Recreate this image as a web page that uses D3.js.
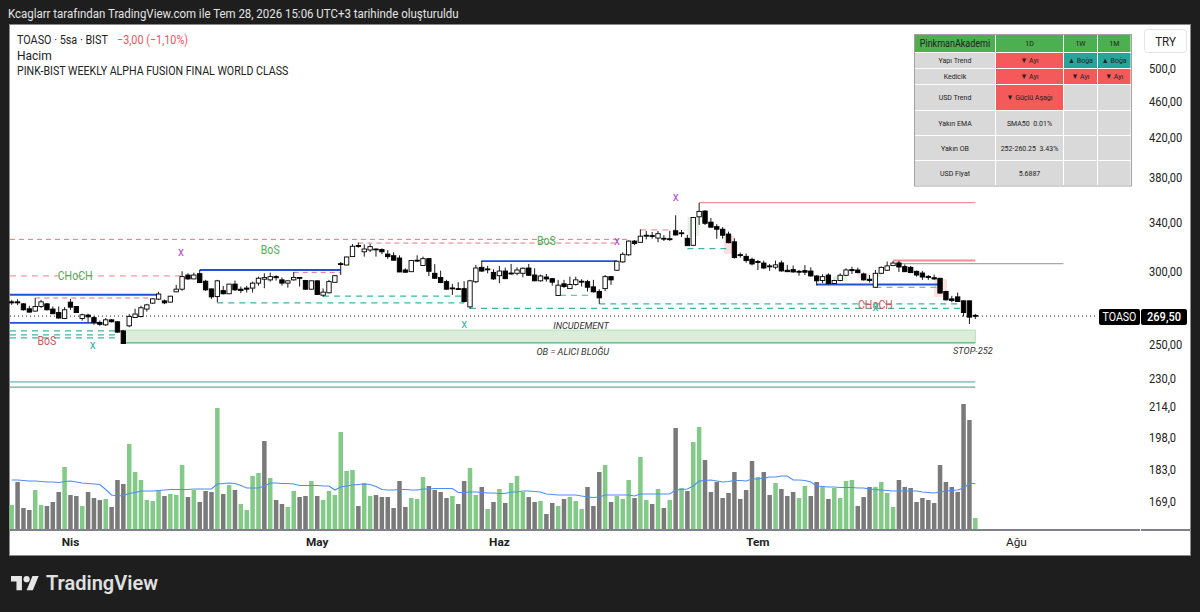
<!DOCTYPE html>
<html lang="tr">
<head>
<meta charset="utf-8">
<title>TOASO</title>
<script src="https://cdnjs.cloudflare.com/ajax/libs/d3/7.8.5/d3.min.js"></script>
<style>
html,body{margin:0;padding:0;background:#1e1e1e;}
svg{display:block;font-family:Roboto,"Noto Sans",sans-serif;}
text{white-space:pre;}
</style>
</head>
<body>
<svg id="chart" width="1200" height="612"></svg>
<script>
// 5-hour candles, in chart order
const opens = [279.3,279.3,277.9,274.5,272.9,276.1,277.9,274.3,271.9,267.9,279.1,276.1,267.9,270.2,268.5,265.3,263.7,267,265.7,259.7,263,268.5,269.2,274.3,278.4,281.2,280,279.1,286.4,288.3,298.7,295.8,299.7,294.1,288.5,283,287.3,285,292,288.3,289.1,289.1,292.7,295.6,295.1,297.5,295.1,292.7,295.1,296.9,294.6,288.3,294.4,284,285.7,293.3,307.3,306.3,312.8,321.6,316.6,318,318.8,318.4,314.8,313.5,311.7,302.5,301.2,310,305.9,311.2,300,296.9,293.8,289.2,288.7,288.7,275.8,293.7,304.5,303.3,300.7,298.2,301.7,300.2,300,300,304,298.7,294.4,297.2,296,283.8,292.2,288.7,291.7,294.1,293.8,290,286.6,288.7,297.5,302.3,308.7,314.2,325.2,324.2,330,329.7,327.7,327.5,327.1,333.7,332,327.5,321.8,345.6,350.6,341,337.2,335,331,324.6,314.3,313,310.7,309,307.8,305.6,304.6,307.9,302.3,302.8,301.5,302,301.7,298,294.6,298.7,292.4,294.6,298.5,302.8,302.5,299.5,295.6,289.7,300,302.3,305.9,307.9,305.1,304.5,301.5,300.2,297.7,296.7,296.3,286.6,281.4,282.8,280,280,270];
const highs = [280.7,281.2,278.4,276.6,281.9,280.7,278.4,276.1,276.1,275.6,281.4,276.1,271.1,271.1,269.7,266.5,268.2,267.5,265.9,260.4,270.9,274.5,276.6,277.9,281.9,286.4,280.9,283.5,291.4,301.5,300,300.5,302.5,295.1,288.8,295.1,290.7,292,294.6,290.2,290.7,293.8,297.5,300,300.5,298.5,296.9,294.6,301,296.9,295.1,294.6,294.6,288.8,295.1,298.5,308.7,312.8,322.8,324,322.5,322.8,319.3,319.3,318,316.2,313.8,303.8,310.2,313.8,312.8,311.7,306.9,302,295.1,292.2,293.4,294.1,295.1,306.4,309.7,305.6,303,305.6,304.3,307.1,304.5,304.5,307.1,303.8,299,299.5,296.5,295.1,295.1,297.5,297.5,295.6,295.1,295.1,288.3,298.7,298,309.5,316.2,325.8,326,334.9,333.5,332.7,333.5,330.2,333.7,346.9,334.3,330.2,345.4,357.9,351.4,344.6,339.3,336.8,333,327.5,316,315.2,312,310.2,309.7,307.1,309.7,309.7,306.4,305.9,302.5,306.2,304.5,298.5,299.3,300,295.1,300,303.8,305,304.3,300.5,298.7,302.5,305.1,309,309.3,309.5,306.7,305.6,302,301.8,298.7,299,296.5,287.1,283.5,285.9,280.2,280.2,271];
const lows = [277.2,277,273.3,272,272.6,274.9,273.3,270.9,267.9,267.5,273.8,271.9,266.5,265.3,263.7,263,263,265.3,258.6,251.6,262.1,268.2,268.5,272.6,277.9,280.7,277.7,278.9,286.2,287.1,295.1,295.6,292.7,287.1,281.4,278.9,284.5,285,287.1,285.5,285.9,285.9,290.9,289,293.8,294.6,290.9,289.4,294.6,290.2,287.8,288.1,284.3,282.8,285.2,293.3,298.7,306.1,312.5,319.8,312.8,316.4,312.8,314.8,311,309.7,300.8,300.5,301,308.7,305.6,298,295.8,292.7,287.8,284.2,287.8,278.9,274.5,292.7,301,300,295.1,292.7,295.6,299,298.5,297,298,294.1,293.8,293.8,290.9,283.5,289.2,288.5,290.9,290.2,286.6,285.9,277.9,286.9,291.4,302,308,313.5,322,324,326.6,327.1,324.2,325.2,325.4,330,328.6,321.2,321.2,338.6,338.6,336.4,327.1,327.1,323.4,311.3,312,308,306,302.5,303.1,301.8,303.1,301.2,301,300.5,298.2,298.7,297.5,291,292.7,292,292,294.1,298,299.5,300,294.6,293.1,289.4,299.5,301.8,305.6,301,301,300.2,297.5,295.1,295.1,295.1,285.2,280.2,279,279.3,269.2,264.2,267.5];
const closes = [278.6,278.6,273.8,272.2,276.1,279.3,273.8,271.1,268.2,273.8,275.6,271.9,270.4,269,265.3,264,267,265.7,258.9,251.6,269.2,270.9,275.2,277.2,281.4,284.8,278.6,283.3,288.3,297.5,295.8,298.7,293.1,287.8,282.8,294.4,285,292,287.8,287.3,288.3,292.7,296.3,296.8,297.5,296.7,292.7,294.4,296.9,296.7,288.3,294.4,284.5,286.2,293.8,298.2,307.1,312.5,321,321.4,318.8,320.7,318.4,316.6,312.8,310,301,300.8,309.7,309.4,311.2,301.5,296.3,293.1,288.3,288.7,288.3,279.5,294.4,304,301.7,302.8,295.8,301.7,296,299.5,302.5,303.8,298.5,294.4,298,295.8,293.4,291.2,290.2,291.7,295.1,293.6,289.7,286.4,282.1,297.5,295.1,309.2,314.6,325.2,323.3,329.2,329.5,329.4,331.3,327.1,326.8,330.2,331.4,321.5,345,350.3,340,336.7,335,330,323.9,312,313.7,309.7,307.1,308.2,304,305.1,306.4,301.8,301.2,301,301,300.8,298,294.4,297.5,292.2,294.6,298.5,302.5,302,300.5,295.1,294.6,300,304.5,305.6,307.8,304.8,301.2,300.5,298.7,297.2,296.9,295.8,285.5,280.7,280.2,279.5,271.9,268.8,269.5];

// Traded volume per candle (thousand shares), its moving average, and bar direction (1 green, 0 grey)
const volumes = [240,470,210,190,390,240,230,270,370,620,340,330,230,370,310,290,300,220,490,450,850,570,490,290,280,390,330,350,340,640,320,390,270,380,370,1210,350,440,390,250,190,530,560,880,510,290,250,220,380,320,330,480,330,290,380,340,970,580,590,230,460,330,340,320,320,210,480,220,310,300,520,430,390,370,310,330,250,480,610,340,420,200,270,400,260,460,530,370,320,270,280,150,260,230,300,320,280,200,420,230,570,640,270,330,300,490,310,720,290,250,400,210,290,1010,410,380,870,1020,690,370,470,310,360,570,300,390,680,520,570,340,460,400,330,370,310,430,330,470,420,300,410,310,480,490,230,320,420,420,470,360,220,490,420,410,270,310,290,260,640,470,420,370,1250,1090,110];
const volumeMA = [490,490,485,480,480,475,470,470,465,475,480,470,460,455,450,445,395,340,330,335,355,365,380,380,380,385,390,395,395,395,395,400,400,400,400,450,455,460,455,435,410,410,410,430,460,460,455,455,450,435,435,435,435,430,430,390,420,430,440,445,450,445,425,395,390,390,395,395,390,390,400,400,405,405,405,405,365,365,370,370,365,360,360,355,355,370,370,380,380,375,370,350,345,340,340,340,340,330,320,315,320,340,340,340,340,340,330,350,350,350,350,350,350,390,395,400,430,480,485,490,480,470,475,485,485,480,500,500,510,520,520,530,530,490,490,485,470,430,425,420,420,415,415,415,410,410,400,395,390,385,380,380,380,380,380,370,365,360,370,380,385,390,410,455,455];
const volumeDir = [1,0,0,0,1,1,0,0,0,1,0,0,1,0,0,0,1,0,0,0,1,1,1,1,1,1,0,1,1,1,0,1,0,0,0,1,0,1,0,1,1,1,1,0,1,0,0,1,1,0,0,1,0,1,1,1,1,1,1,0,1,1,0,0,0,0,0,0,1,1,1,0,0,0,0,1,0,0,1,1,0,1,0,1,0,1,1,1,0,0,1,0,0,1,0,1,1,1,0,0,0,1,0,1,1,1,0,1,1,0,1,0,1,0,1,0,1,1,0,0,0,0,0,0,0,0,0,1,0,0,1,0,0,0,1,1,0,0,1,0,1,1,1,1,0,0,0,1,1,1,1,0,0,0,0,0,0,0,0,0,0,0,0,0,1];

// Horizontal structure levels: [first candle, last candle, price, style]
const levels = [
  [0.7,106,326.6,"pinkDash"],[60,104,323.6,"pinkDash"],[0.7,30,298,"softDash"],
  [5,24.5,282,"pinkDash"],[49,57,300.7,"pinkDash"],[108,114,334.5,"softDash"],
  [0.7,26,284.3,"blue"],[0.7,16,265,"blue"],[33,57,302.5,"blue"],[81,104,309.3,"blue"],[138,159,291.7,"blue"],
  [0.7,20,259.7,"tealDash"],[0.7,19,257.1,"tealDash"],[0.7,19,255.2,"tealDash"],
  [36,78,278.6,"tealDash"],[54,78,283.3,"tealDash"],[79,163,274.8,"tealDash"],[101,163,277.9,"tealDash"],
  [94.3,99.4,283.9,"tealDash"],[116,123,319.1,"tealDash"],[148,158.5,289.7,"tealDash"],
  [118,165,358,"red"],[151,165,309.7,"redWide"],[152,180,307.4,"grey"],
  [0.7,165,228.6,"tealWide"],[0.7,165,225.6,"green"]
];

// Imbalance zones: [first candle, last candle, upper price, lower price, style]
const zones = [
  [116,118,345.4,329.4,"gain"],[122.2,124,329.4,314.9,"loss"],[158,160.2,295.8,282.7,"loss"],
  [140.8,143.2,298,294.3,"gain"],[145,147,300.2,296.5,"loss"],[148.2,149,300.2,297.3,"gain"]
];

// Order block quoted in the summary table
const orderBlock = [20.3,165,260.25,252];

// Chart notes: [candle, price, text, style]
const notes = [
  [11.8,298,"CHoCH","sigGreen"],[7,253.2,"BoS","sigRed"],[45,318,"BoS","sigGreen"],[92,325.3,"BoS","sigGreen"],[148,277.4,"CHoCH","sigRed"],
  [14.8,251,"x","markTeal"],[78,264,"x","markTeal"],[148,276,"x","markTeal"],
  [29.8,316.4,"x","markPurple"],[104,325,"x","markPurple"],[114,363.6,"x","markPurple"],
  [97.9,263,"INCUDEMENT","memo"],[96.5,246.6,"OB = ALICI BLOĞU","memo"],[164.6,247.5,"STOP-252","memo"]
];

// Axis labels
const priceTicks = [500,460,420,380,340,300,250,230,214,198,183,169];
const priceTickLabels = ["500,0","460,00","420,00","380,00","340,00","300,00","250,00","230,0","214,0","198,0","183,0","169,0"];
const monthTicks = [11,53,84,128,172];
const monthLabels = ["Nis","May","Haz","Tem","Ağu"];
const monthBold = [1,1,1,1,0];

const lastPrice = 269.5;
const lastPriceLabel = "269,50";
const symbol = "TOASO";

// Summary table
const tableHeader = ["PinkmanAkademi","1D","1W","1M"];
const tableRows = [
  ["Yapı Trend","▼ Ayı","▲ Boğa","▲ Boğa"],
  ["Kedicik","▼ Ayı","▼ Ayı","▼ Ayı"],
  ["USD Trend","▼ Güçlü Aşağı","",""],
  ["Yakın EMA","SMA50  0.01%","",""],
  ["Yakın OB","252-260.25  3.43%","",""],
  ["USD Fiyat","5.6887","",""]
];

const svg = d3.select("#chart");
const pane = {left:10,right:1190,top:25,bottom:555,plotRight:1140,volBase:529};

// Price runs on a logarithmic scale, candles sit on an evenly spaced index
const x = d3.scaleLinear().domain([1,165]).range([11.7,975.3]);
const y = d3.scaleLog().domain([500,230]).range([69.3,379.4]);
const yVol = d3.scaleLinear().domain([0,1250]).range([pane.volBase,404]);

// Narrows set text horizontally to the proportions of the chart's interface face
function condense(sel, factor){
  sel.each(function(){
    const w = this.getComputedTextLength();
    if (w > 0) d3.select(this).attr("textLength", w * factor).attr("lengthAdjust", "spacingAndGlyphs");
  });
  return sel;
}

svg.append("rect").attr("width",1200).attr("height",612).attr("fill","#1e1e1e");
svg.append("rect").attr("x",pane.left-.5).attr("y",pane.top-.5)
  .attr("width",pane.right-pane.left+1).attr("height",pane.bottom-pane.top+1)
  .attr("fill","#fff").attr("stroke","#8a8a8a");

condense(svg.append("text").attr("x",8).attr("y",18).attr("fill","#e4e4e4").attr("font-size",12)
  .text("Kcaglarr tarafından TradingView.com ile Tem 28, 2026 15:06 UTC+3 tarihinde oluşturuldu"),.955);

// Legend block
const legend = svg.append("g").attr("font-size",12).attr("fill","#222");
condense(legend.append("text").attr("x",17).attr("y",44).text("TOASO · 5sa · BIST"),.9);
condense(legend.append("text").attr("x",117).attr("y",44).attr("fill","#f7525f").text("−3,00 (−1,10%)"),.9);
legend.append("text").attr("x",17).attr("y",59.5).text("Hacim");
condense(legend.append("text").attr("x",17).attr("y",75).text("PINK-BIST WEEKLY ALPHA FUSION FINAL WORLD CLASS"),.885);

// Volume pane
const volW = 4.5;
svg.append("g").selectAll("rect").data(volumes).join("rect")
  .attr("x",(d,i)=>x(i+1)-volW/2).attr("width",volW)
  .attr("y",d=>yVol(d)).attr("height",d=>yVol(0)-yVol(d))
  .attr("fill",(d,i)=>volumeDir[i]?"#83c988":"#7a7a7a");
svg.append("path").datum(volumeMA)
  .attr("d",d3.line().x((d,i)=>x(i+1)).y(d=>yVol(d)))
  .attr("fill","none").attr("stroke","#4d8df5").attr("stroke-width",1.1);

// Base line of the plot and axis strip
svg.append("rect").attr("x",pane.left).attr("y",pane.volBase).attr("width",pane.plotRight-pane.left).attr("height",2).attr("fill","#80808a");
svg.append("rect").attr("x",pane.plotRight+1).attr("y",pane.volBase).attr("width",pane.right-pane.plotRight-1).attr("height",2).attr("fill","#80808a");

// Order block and imbalance zones
svg.append("rect").attr("x",x(orderBlock[0])).attr("width",x(orderBlock[1])-x(orderBlock[0]))
  .attr("y",y(orderBlock[2])).attr("height",y(orderBlock[3])-y(orderBlock[2]))
  .attr("fill","#dbeeda");
svg.append("line").attr("x1",x(orderBlock[0])).attr("x2",x(orderBlock[1])).attr("y1",y(orderBlock[2])).attr("y2",y(orderBlock[2]))
  .attr("stroke","#b9dfba").attr("stroke-width",1);
svg.append("line").attr("x1",x(orderBlock[1])).attr("x2",x(orderBlock[1])).attr("y1",y(orderBlock[2])).attr("y2",y(orderBlock[3]))
  .attr("stroke","#b9dfba").attr("stroke-width",1);
svg.append("line").attr("x1",x(orderBlock[0])).attr("x2",x(orderBlock[1])).attr("y1",y(orderBlock[3])).attr("y2",y(orderBlock[3]))
  .attr("stroke","#57a883").attr("stroke-width",1.2);

svg.append("g").selectAll("rect").data(zones).join("rect")
  .attr("x",d=>x(d[0])).attr("width",d=>x(d[1])-x(d[0]))
  .attr("y",d=>y(d[2])).attr("height",d=>y(d[3])-y(d[2]))
  .attr("fill",d=>d[4]==="gain"?"#e4f3e4":"#fbe1e3");

// Structure levels
const levelStyle = {
  pinkDash:{stroke:"#e8727c",width:1,dash:"5,4"},
  softDash:{stroke:"#f59aa1",width:1.3,dash:"6,5"},
  tealDash:{stroke:"#3cb5a3",width:1.1,dash:"6,5"},
  blue:{stroke:"#2250dc",width:1.8,dash:null},
  red:{stroke:"#f68e96",width:1.3,dash:null},
  redWide:{stroke:"#f48c94",width:2,dash:null},
  grey:{stroke:"#a8a8a8",width:1.2,dash:null},
  tealWide:{stroke:"#8fd0c6",width:1.6,dash:null},
  green:{stroke:"#5db394",width:1.1,dash:null}
};
svg.append("g").selectAll("line").data(levels).join("line")
  .attr("x1",d=>x(d[0])).attr("x2",d=>x(d[1])).attr("y1",d=>y(d[2])).attr("y2",d=>y(d[2]))
  .attr("stroke",d=>levelStyle[d[3]].stroke).attr("stroke-width",d=>levelStyle[d[3]].width)
  .attr("stroke-dasharray",d=>levelStyle[d[3]].dash);

// Last price line
svg.append("line").attr("x1",pane.left).attr("x2",1097).attr("y1",y(lastPrice)).attr("y2",y(lastPrice))
  .attr("stroke","#222").attr("stroke-width",1).attr("stroke-dasharray","1,3");

// Candles
const bodyW = 4.4;
const candles = svg.append("g").selectAll("g").data(d3.range(closes.length)).join("g");
candles.append("line").attr("x1",i=>x(i+1)).attr("x2",i=>x(i+1))
  .attr("y1",i=>y(highs[i])).attr("y2",i=>y(lows[i])).attr("stroke","#1a1a1a").attr("stroke-width",1);
candles.append("rect").attr("x",i=>x(i+1)-bodyW/2).attr("width",bodyW)
  .attr("y",i=>y(Math.max(opens[i],closes[i])))
  .attr("height",i=>Math.max(.9,Math.abs(y(opens[i])-y(closes[i]))))
  .attr("fill",i=>closes[i]>=opens[i]?"#fff":"#000")
  .attr("stroke","#000").attr("stroke-width",.9);

// Signals and notes
const noteStyle = {
  sigGreen:{fill:"#52ad57",size:12,style:"normal",fit:.88},
  sigRed:{fill:"#cc5a60",size:12,style:"normal",fit:.88},
  markTeal:{fill:"#3cb5a3",size:12,style:"normal",fit:1},
  markPurple:{fill:"#b04fc9",size:12,style:"normal",fit:1},
  memo:{fill:"#333",size:9.2,style:"italic",fit:1}
};
svg.append("g").selectAll("text").data(notes).join("text")
  .attr("x",d=>x(d[0])).attr("y",d=>y(d[1]))
  .attr("text-anchor","middle").attr("dominant-baseline","central")
  .attr("fill",d=>noteStyle[d[3]].fill).attr("font-size",d=>noteStyle[d[3]].size)
  .attr("font-style",d=>noteStyle[d[3]].style)
  .text(d=>d[2])
  .each(function(d){ condense(d3.select(this), noteStyle[d[3]].fit); });

// Price axis
condense(svg.append("g").selectAll("text").data(priceTicks).join("text")
  .attr("x",1149).attr("y",d=>y(d)-1.3).attr("dominant-baseline","central")
  .attr("font-size",12.6).attr("fill","#222")
  .text((d,i)=>priceTickLabels[i]),.88);

// Time axis
svg.append("g").selectAll("text").data(monthTicks).join("text")
  .attr("x",d=>x(d)).attr("y",542).attr("text-anchor","middle").attr("dominant-baseline","central")
  .attr("font-size",11.8).attr("font-weight",(d,i)=>monthBold[i]?700:400).attr("fill","#222")
  .text((d,i)=>monthLabels[i]);

// Currency badge
svg.append("rect").attr("x",1144.5).attr("y",29.5).attr("width",42).attr("height",23).attr("rx",3)
  .attr("fill","#fff").attr("stroke","#e4e4e4");
condense(svg.append("text").attr("x",1165.5).attr("y",41.5).attr("text-anchor","middle").attr("dominant-baseline","central")
  .attr("font-size",12.6).attr("fill","#222").text("TRY"),.92);

// Last price tags
const tagY = y(lastPrice)+.8;
svg.append("rect").attr("x",1099).attr("y",tagY-8).attr("width",41).attr("height",16).attr("rx",2).attr("fill","#000");
svg.append("rect").attr("x",1141).attr("y",tagY-8).attr("width",46).attr("height",16).attr("rx",2).attr("fill","#000");
condense(svg.append("text").attr("x",1119.5).attr("y",tagY).attr("text-anchor","middle").attr("dominant-baseline","central")
  .attr("font-size",12.6).attr("fill","#fff").text(symbol),.84);
condense(svg.append("text").attr("x",1164).attr("y",tagY).attr("text-anchor","middle").attr("dominant-baseline","central")
  .attr("font-size",12.6).attr("font-weight",500).attr("fill","#fff").text(lastPriceLabel),.88);

// Summary table
const colEdges = [915,996,1064,1098,1131.5];
const rowEdges = [35,53,69,85,111,136,161,186];
const cellFill = t => t.startsWith("▼") ? "#f55a5a" : t.startsWith("▲") ? "#26a69a" : "#d9d9d9";
const tableCells = [];
[tableHeader,...tableRows].forEach((row,r)=>row.forEach((t,c)=>tableCells.push({t,r,c})));
const table = svg.append("g");
table.append("rect").attr("x",914.5).attr("y",34.5).attr("width",217).attr("height",151.5).attr("fill","#fff").attr("stroke","#a2a2a2");
const cell = table.selectAll("g").data(tableCells).join("g");
cell.append("rect")
  .attr("x",d=>colEdges[d.c]).attr("y",d=>rowEdges[d.r])
  .attr("width",d=>colEdges[d.c+1]-colEdges[d.c]-1).attr("height",d=>rowEdges[d.r+1]-rowEdges[d.r]-1)
  .attr("fill",d=>d.r===0?"#4caf50":cellFill(d.t));
condense(cell.append("text")
  .attr("x",d=>(colEdges[d.c]+colEdges[d.c+1]-1)/2).attr("y",d=>(rowEdges[d.r]+rowEdges[d.r+1]-1)/2)
  .attr("text-anchor","middle").attr("dominant-baseline","central")
  .attr("font-size",d=>d.r===0&&d.c===0?10:7.8)
  .attr("fill","#222").text(d=>d.t),.9);

// Brand mark
const brand = svg.append("g");
brand.append("g").attr("transform","translate(11,573) scale(0.78)").attr("fill","#e6e6e6")
  .html('<path d="M14 22H7V11H0V4h14v18zM28 22h-8l7.5-18h8L28 22z"/><circle cx="20" cy="8" r="4"/>');
brand.append("text").attr("x",46).attr("y",590).attr("font-size",20).attr("font-weight",600).attr("fill","#e0e0e0").text("TradingView");
</script>
</body>
</html>
